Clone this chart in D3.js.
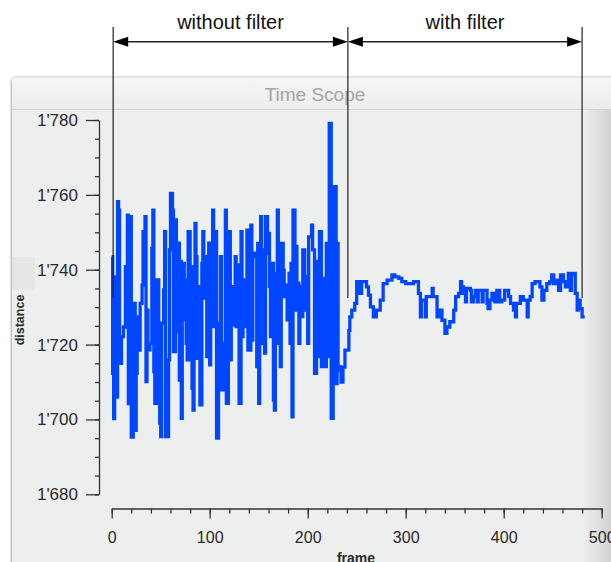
<!DOCTYPE html>
<html>
<head>
<meta charset="utf-8">
<script src="https://cdn.jsdelivr.net/npm/d3@7"></script>
<style>
  body { margin: 0; background: #fff; overflow: hidden; }
  svg { display: block; font-family: "Liberation Sans", Arial, Helvetica, sans-serif; }
</style>
</head>
<body>
<div id="chart"></div>
<script>
// data: [frame, distance], drawn as stairs
const rawTrace = [
  [0,1743.5],[1,1712.3],[2,1700.2],[3,1738.1],[5,1706.0],[6,1758.2],[7,1755.9],[8,1715.0],[10,1722.1],[12,1724.7],
  [14,1740.8],[15,1736.8],[16,1754.6],[17,1704.2],[19,1754.2],[20,1695.3],[22,1697.1],[23,1731.0],[24,1697.1],[25,1712.3],
  [26,1727.4],[27,1718.5],[29,1731.0],[31,1735.9],[32,1750.2],[34,1754.2],[35,1710.1],[36,1729.2],[37,1718.6],[39,1720.3],
  [41,1745.7],[42,1755.9],[43,1712.8],[44,1704.3],[46,1737.3],[48,1711.4],[49,1699.0],[50,1695.4],[51,1725.7],[53,1734.6],
  [54,1750.2],[55,1695.4],[58,1715.9],[59,1745.3],[60,1760.4],[62,1755.9],[63,1718.1],[65,1753.3],[66,1723.5],[67,1747.1],
  [69,1710.5],[70,1742.2],[71,1700.3],[72,1741.7],[74,1737.3],[75,1726.6],[76,1720.3],[77,1715.9],[78,1750.2],[80,1715.9],
  [81,1740.8],[82,1708.3],[83,1702.5],[84,1733.2],[85,1752.4],[86,1743.5],[87,1716.3],[88,1735.5],[90,1703.9],[92,1741.7],
  [93,1750.2],[94,1732.4],[95,1743.5],[97,1716.8],[99,1747.1],[100,1714.6],[101,1736.8],[103,1755.9],[104,1724.8],[106,1750.2],
  [107,1695.0],[109,1725.7],[111,1743.5],[112,1707.9],[114,1720.3],[116,1755.9],[117,1704.3],[119,1750.2],[121,1715.9],[122,1735.5],
  [124,1725.2],[126,1743.5],[127,1724.8],[129,1741.3],[130,1704.3],[132,1750.2],[133,1722.1],[134,1737.3],[135,1732.8],[136,1724.8],
  [138,1750.6],[139,1718.5],[142,1751.9],[143,1721.2],[144,1744.4],[146,1743.5],[148,1714.1],[149,1747.0],[150,1704.3],[151,1729.2],
  [152,1754.2],[153,1720.3],[154,1745.3],[156,1717.7],[157,1754.2],[159,1744.4],[160,1749.7],[161,1735.5],[162,1722.1],[163,1741.7],
  [165,1705.2],[166,1702.5],[167,1739.0],[169,1755.9],[170,1720.3],[171,1730.1],[172,1714.1],[173,1747.0],[175,1739.9],[176,1732.8],
  [177,1735.9],[179,1726.6],[181,1739.0],[182,1720.3],[183,1741.7],[184,1700.7],[185,1755.9],[187,1729.2],[188,1746.2],[189,1736.4],
  [191,1720.3],[192,1735.5],[193,1727.5],[195,1745.3],[197,1729.2],[199,1738.1],[200,1720.3],[201,1748.8],[204,1751.9],[205,1745.3],
  [207,1712.3],[209,1742.2],[211,1716.8],[212,1750.2],[214,1714.1],[216,1737.7],[217,1714.1],[219,1747.0],[221,1716.8],[222,1779.1],
  [224,1700.3],[226,1737.7],[227,1762.2],[229,1709.6],[230,1747.0],[231,1714.1],[233,1713.2],[234,1710.0],[236,1714.0]
];

const filteredTrace = [
  [238,1718.5],[242,1723.8],[243,1727.4],[245,1729.2],[248,1731.0],[250,1736.8],[253,1733.7],[255,1736.8],[260,1735.4],[262,1733.2],
  [264,1730.1],[267,1727.4],[270,1729.2],[274,1731.9],[277,1736.3],[281,1737.2],[286,1738.6],[289,1738.1],[293,1737.7],[296,1736.8],
  [300,1736.3],[305,1736.3],[308,1736.8],[311,1736.8],[313,1733.7],[315,1727.4],[316,1731.9],[320,1727.4],[321,1732.8],[325,1732.8],
  [327,1735.0],[328,1732.8],[332,1727.4],[335,1729.2],[337,1726.5],[340,1723.0],[342,1724.7],[345,1726.1],[349,1729.2],[351,1732.8],
  [354,1733.7],[356,1736.8],[357,1735.4],[359,1733.7],[361,1731.4],[362,1735.0],[366,1734.5],[367,1731.4],[369,1732.8],[371,1734.5],
  [373,1731.4],[374,1734.5],[378,1731.4],[379,1734.5],[383,1731.0],[384,1729.6],[386,1731.9],[388,1733.7],[391,1731.4],[393,1734.5],
  [396,1731.4],[398,1731.9],[401,1734.5],[405,1732.8],[407,1731.0],[410,1729.2],[412,1727.4],[413,1731.0],[417,1732.8],[420,1731.9],
  [424,1727.4],[425,1731.9],[427,1732.8],[429,1736.3],[432,1736.8],[435,1736.8],[437,1735.4],[439,1731.9],[441,1734.5],[444,1736.3],
  [447,1736.8],[449,1738.6],[451,1736.3],[454,1737.2],[456,1734.5],[458,1738.6],[461,1736.8],[463,1735.4],[466,1739.0],[468,1734.5],
  [469,1738.6],[471,1739.0],[473,1733.7],[475,1729.2],[476,1731.9],[478,1729.6],[480,1727.4],[481,1727.0]
];

// axes
const xMajor = [0, 100, 200, 300, 400, 500];
const xMinor = d3.range(0, 501, 20);
const yMajor = [1680, 1700, 1720, 1740, 1760, 1780];
const yMinor = d3.range(1680, 1781, 5);

// annotation: section boundaries (frame) and labels
const sectionEdges = [1.5, 241, 480];
const sectionLabels = ['without filter', 'with filter'];

// layout
const fullWidth = 611;
const fullHeight = 562;
const blue = '#0046ff';
const ink = '#333';

const svg = d3.select('#chart').append('svg')
  .attr('width', fullWidth)
  .attr('height', fullHeight);

const defs = svg.append('defs');
const tg = defs.append('linearGradient').attr('id', 'titleGrad')
  .attr('x1', 0).attr('y1', 0).attr('x2', 0).attr('y2', 1);
tg.append('stop').attr('offset', '0%').attr('stop-color', '#f6f6f6');
tg.append('stop').attr('offset', '100%').attr('stop-color', '#ececec');
const sg = defs.append('linearGradient').attr('id', 'shadeGrad')
  .attr('x1', 0).attr('y1', 0).attr('x2', 1).attr('y2', 0);
sg.append('stop').attr('offset', '0%').attr('stop-color', '#d2d2d2').attr('stop-opacity', 0);
sg.append('stop').attr('offset', '100%').attr('stop-color', '#d2d2d2').attr('stop-opacity', 1);

// scope window
svg.append('path')
  .attr('d', 'M11,600 V82 Q11,77 16,77 H640 V600 Z')
  .attr('fill', '#edeeee')
  .attr('stroke', '#c2c2c2');
svg.append('path')
  .attr('d', 'M11.5,109 V82 Q11.5,77.5 16,77.5 H640 V109 Z')
  .attr('fill', 'url(#titleGrad)');
svg.append('line')
  .attr('x1', 11).attr('x2', fullWidth).attr('y1', 109.5).attr('y2', 109.5)
  .attr('stroke', '#d3d3d3');
svg.append('line')
  .attr('x1', 11.5).attr('x2', 11.5).attr('y1', 82).attr('y2', fullHeight)
  .attr('stroke', '#c2c2c2');
svg.append('rect')
  .attr('x', 583).attr('y', 110).attr('width', 28).attr('height', fullHeight - 110)
  .attr('fill', 'url(#shadeGrad)');
svg.append('rect')
  .attr('x', 12).attr('y', 257).attr('width', 23).attr('height', 33)
  .attr('fill', '#e5e6e6');

svg.append('text')
  .attr('x', 315).attr('y', 101)
  .attr('text-anchor', 'middle')
  .attr('font-size', 19)
  .attr('fill', '#a4a4a4')
  .text('Time Scope');

// scales
const x = d3.scaleLinear().domain([0, 500]).range([111.7, 601.7]);
const y = d3.scaleLinear().domain([1680, 1780]).range([494.3, 120]);

const fmt = d3.formatLocale({ decimal: '.', thousands: "'", grouping: [3], currency: ['', ''] }).format(',');

// y axis
const yAxisG = svg.append('g').attr('transform', 'translate(99,0)');
yAxisG.call(d3.axisLeft(y).tickValues(yMinor).tickSize(4).tickFormat(''))
  .call(g => g.select('.domain').remove());
yAxisG.append('g')
  .call(d3.axisLeft(y).tickValues(yMajor).tickSize(13).tickSizeOuter(0).tickPadding(8).tickFormat(fmt));
yAxisG.selectAll('line, path').attr('stroke', ink).attr('stroke-width', 1.3);
yAxisG.selectAll('text')
  .attr('font-size', 17)
  .attr('fill', '#2a2a2a')
  .attr('font-family', '"Liberation Sans", Arial, sans-serif');

// x axis
const xAxisG = svg.append('g').attr('transform', 'translate(0,508.5)');
xAxisG.call(d3.axisBottom(x).tickValues(xMinor).tickSize(5).tickFormat(''))
  .call(g => g.select('.domain').remove());
xAxisG.append('g')
  .call(d3.axisBottom(x).tickValues(xMajor).tickSize(10).tickSizeOuter(0).tickPadding(13).tickFormat(d3.format('d')));
xAxisG.selectAll('line, path').attr('stroke', ink).attr('stroke-width', 1.3);
xAxisG.selectAll('text')
  .attr('font-size', 16)
  .attr('fill', '#2a2a2a')
  .attr('font-family', '"Liberation Sans", Arial, sans-serif');

// axis titles
svg.append('text')
  .attr('x', 356).attr('y', 563)
  .attr('text-anchor', 'middle')
  .attr('font-size', 14)
  .attr('font-weight', 'bold')
  .attr('fill', '#2a2a2a')
  .text('frame');

svg.append('text')
  .attr('transform', 'translate(24,320) rotate(-90)')
  .attr('text-anchor', 'middle')
  .attr('font-size', 12.5)
  .attr('font-weight', 'bold')
  .attr('fill', '#2a2a2a')
  .text('distance');

// the trace
const points = rawTrace.concat(filteredTrace);

const line = d3.line()
  .x(d => x(d[0]))
  .y(d => y(d[1]))
  .curve(d3.curveStepAfter);

svg.append('path')
  .datum(points)
  .attr('fill', 'none')
  .attr('stroke', blue)
  .attr('stroke-width', 3.3)
  .attr('d', line);

// section annotation
const annY = 41.7;
const ann = svg.append('g').attr('stroke', '#222');

ann.selectAll('.edge')
  .data(sectionEdges)
  .join('line')
  .attr('class', 'edge')
  .attr('x1', d => x(d)).attr('x2', d => x(d))
  .attr('y1', 27).attr('y2', 298)
  .attr('stroke-width', 1.2);

sectionLabels.forEach((label, i) => {
  const xa = x(sectionEdges[i]);
  const xb = x(sectionEdges[i + 1]);
  ann.append('line')
    .attr('x1', xa + 10).attr('x2', xb - 10)
    .attr('y1', annY).attr('y2', annY)
    .attr('stroke-width', 1.4);
  ann.append('path')
    .attr('d', `M${xa},${annY} L${xa + 15},${annY - 5} L${xa + 15},${annY + 5} Z`)
    .attr('fill', '#000').attr('stroke', 'none');
  ann.append('path')
    .attr('d', `M${xb},${annY} L${xb - 15},${annY - 5} L${xb - 15},${annY + 5} Z`)
    .attr('fill', '#000').attr('stroke', 'none');
  svg.append('text')
    .attr('x', (xa + xb) / 2).attr('y', 28.5)
    .attr('text-anchor', 'middle')
    .attr('font-size', 20)
    .attr('fill', '#111')
    .text(label);
});
</script>
</body>
</html>
